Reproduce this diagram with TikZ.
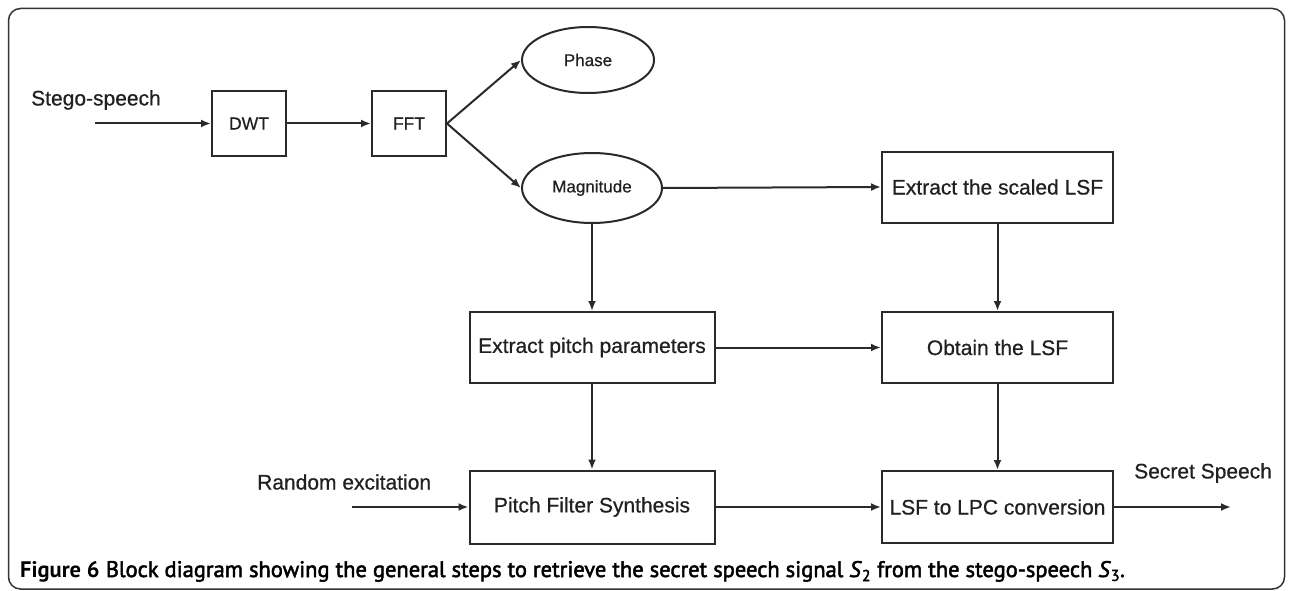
\documentclass[tikz,border=0pt]{standalone}
\usepackage{fontspec}
\setmainfont{Liberation Sans}[FakeBold=0.6]
\newfontfamily\capfont{PT Sans}
\newfontfamily\capsemi{PT Sans}[FakeBold=2.2]
\usetikzlibrary{arrows.meta,shapes.geometric}
\definecolor{ln}{HTML}{2A2A2A}
\definecolor{tx}{HTML}{202020}
\tikzset{
  blk/.style={draw=ln, line width=2pt, rectangle, inner sep=0pt, font=\fontsize{21}{24}\selectfont, text=tx},
  small/.style={draw=ln, line width=2pt, rectangle, minimum width=74pt, minimum height=65pt, inner sep=0pt, font=\fontsize{17.5}{20}\selectfont, text=tx},
  ell/.style={draw=ln, line width=2pt, ellipse, inner sep=0pt, font=\fontsize{17}{20}\selectfont, text=tx},
  lbl/.style={inner sep=0pt, font=\fontsize{21}{24}\selectfont, text=tx},
  conn/.style={draw=ln, line width=2pt, -{Latex[length=10pt,width=8pt]}},
  frame/.style={draw=black!80, line width=1.5pt, rounded corners=12pt}
}
\begin{document}
\begin{tikzpicture}[x=1pt,y=-1pt]
\useasboundingbox (0,0) rectangle (1292,591);
\draw[frame] (8.5,8.5) rectangle (1284.5,589);
% nodes
\node[small] (dwt) at (249,123.5) {DWT};
\node[small] (fft) at (409,123.5) {FFT};
\node[ell, minimum width=132pt, minimum height=66pt] (phase) at (588,60) {Phase};
\node[ell, minimum width=140pt, minimum height=70pt] (mag) at (592,188) {Magnitude};
\node[blk, minimum width=231pt, minimum height=71pt] (els) at (997.5,187) {Extract the scaled LSF};
\node[blk, minimum width=245pt, minimum height=71pt] (epp) at (592,347.5) {Extract pitch parameters};
\node[blk, minimum width=231pt, minimum height=71pt] (obt) at (997.5,347.5) {Obtain the LSF};
\node[blk, minimum width=245pt, minimum height=73pt] (pfs) at (592,507) {Pitch Filter Synthesis};
\node[blk, minimum width=231pt, minimum height=72pt] (lpc) at (997.5,507) {LSF to LPC conversion};
% labels
\node[lbl, anchor=west] (stego) at (31,100) {Stego-speech};
\node[lbl, anchor=west] (rand) at (257,482) {Random excitation};
\node[lbl, anchor=west] (secret) at (1134,473) {Secret Speech};
\coordinate (sin) at (95,123.5);
\coordinate (rin) at (352,507);
\coordinate (sout) at (1231,507);
% connectors
\draw[conn] (sin) -- (dwt.west);
\draw[conn] (dwt) -- (fft);
\draw[conn] (fft.east) -- (phase.west);
\draw[conn] (fft.east) -- (mag.west);
\draw[conn] (mag.east) -- (els.west);
\draw[conn] (mag.south) -- (epp.north);
\draw[conn] (els.south) -- (obt.north);
\draw[conn] (epp.east) -- (obt.west);
\draw[conn] (epp.south) -- (pfs.north);
\draw[conn] (obt.south) -- (lpc.north);
\draw[conn] (rin) -- (pfs.west);
\draw[conn] (pfs.east) -- (lpc.west);
\draw[conn] (lpc.east) -- (sout);
% caption
\node[anchor=base west, inner sep=0pt, text=black, font=\fontsize{22.5}{26}\selectfont] (cap) at (20,577)
  {{\capfont\bfseries Figure 6} {\capsemi Block diagram showing the general steps to retrieve the secret speech signal \textit{S}\textsubscript{2} from the stego-speech \textit{S}\textsubscript{3}.}};
\end{tikzpicture}
\end{document}
